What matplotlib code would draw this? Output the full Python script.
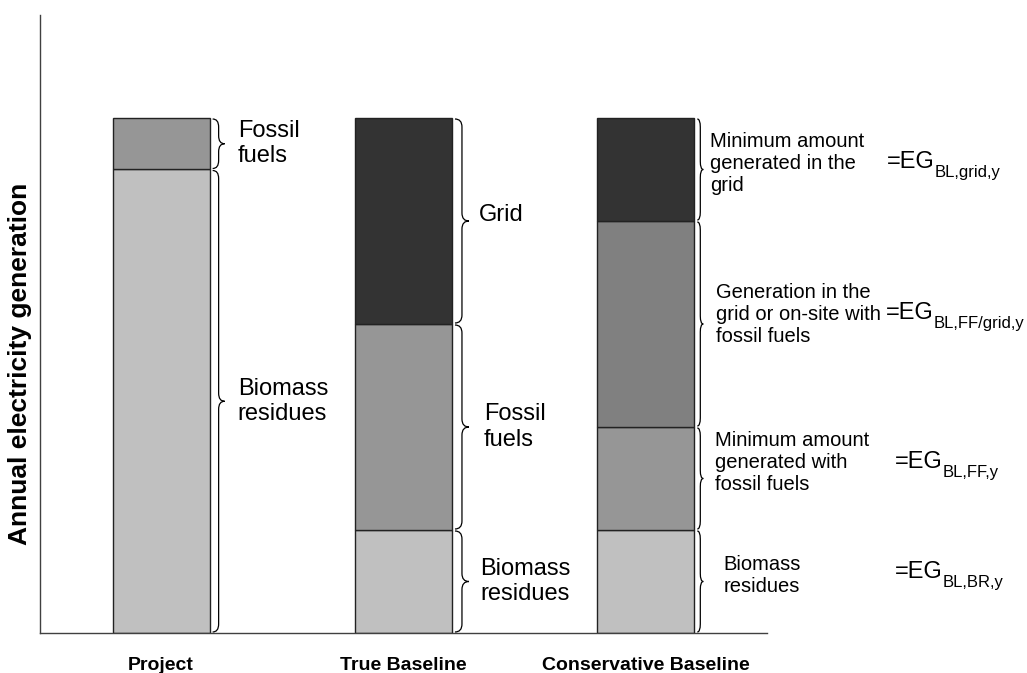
import matplotlib.pyplot as plt
import numpy as np
from matplotlib.path import Path
from matplotlib.patches import PathPatch

plt.rcParams['font.family'] = ['Liberation Sans', 'DejaVu Sans']

categories = ["Project", "True Baseline", "Conservative Baseline"]

# shares of annual generation, stacked bottom to top
project_values = [90, 10]
true_values = [20, 40, 40]
conservative_values = [20, 20, 40, 20]

project_labels = ["Biomass\nresidues", "Fossil\nfuels"]
true_labels = ["Biomass\nresidues", "Fossil\nfuels", "Grid"]
conservative_labels = [
    "Biomass\nresidues",
    "Minimum amount\ngenerated with\nfossil fuels",
    "Generation in the\ngrid or on-site with\nfossil fuels",
    "Minimum amount\ngenerated in the\ngrid",
]
eg_subscripts = ["BL,BR,y", "BL,FF,y", "BL,FF/grid,y", "BL,grid,y"]

project_colors = ["#c0c0c0", "#969696"]
true_colors = ["#c0c0c0", "#969696", "#333333"]
conservative_colors = ["#c0c0c0", "#969696", "#808080", "#333333"]

fig = plt.figure(figsize=(10.27, 6.73), dpi=100)
ax = fig.add_axes([40 / 1027, 40 / 673, 727 / 1027, 618 / 673])
ax.set_xlim(-0.5, 2.5)
ax.set_ylim(0, 120)
width = 0.4

# data units per pixel, used for the braces
px_x = 3.0 / 727
px_y = 120.0 / 618


def brace(x0, y0, y1, w_px, r_px=8):
    w = w_px * px_x
    r = min(r_px * px_y, (y1 - y0) / 4)
    xm = x0 + w / 2
    ym = (y0 + y1) / 2
    verts = [(x0, y1), (xm, y1), (xm, y1 - r),
             (xm, ym + r),
             (xm, ym), (x0 + w, ym),
             (xm, ym), (xm, ym - r),
             (xm, y0 + r),
             (xm, y0), (x0, y0)]
    codes = [Path.MOVETO, Path.CURVE3, Path.CURVE3,
             Path.LINETO,
             Path.CURVE3, Path.CURVE3,
             Path.CURVE3, Path.CURVE3,
             Path.LINETO,
             Path.CURVE3, Path.CURVE3]
    ax.add_patch(PathPatch(Path(verts, codes), fill=False, lw=0.9,
                           edgecolor='black', clip_on=False))


stacks = [
    (project_values, project_colors, project_labels, 12,
     [(28, 0), (28, 0)], 17),
    (true_values, true_colors, true_labels, 14,
     [(28, 0), (32, 0), (27, 6)], 17),
    (conservative_values, conservative_colors, conservative_labels, 6,
     [(29, 6), (21, 16), (22, 9), (16, 6)], 14.5),
]

eg_offsets = [(201, 4), (201, 11), (192, 5), (193, 1)]
eg_texts = []

for i, (vals, cols, labels, bw, offs, fs) in enumerate(stacks):
    bottoms = np.concatenate([[0], np.cumsum(vals)[:-1]])
    ax.bar([i] * len(vals), vals, width=width, bottom=bottoms, color=cols,
           edgecolor='#222222', linewidth=1.0, zorder=2)
    right = i + width / 2
    for v, b, lab, (dx, dy) in zip(vals, bottoms, labels, offs):
        brace(right + 3 * px_x, b + 1 * px_y, b + v - 1 * px_y, bw)
        ax.annotate(lab, xy=(right, b + v / 2), xytext=(dx, dy),
                    textcoords='offset pixels', ha='left', va='center',
                    fontsize=fs, annotation_clip=False)
    if i == 2:
        for v, b, (dx, dy) in zip(vals, bottoms, eg_offsets):
            t = ax.annotate("=EG", xy=(right, b + v / 2), xytext=(dx, dy),
                            textcoords='offset pixels', ha='left', va='baseline',
                            fontsize=17, annotation_clip=False)
            eg_texts.append((t, right, b + v / 2, dx, dy))

fig.canvas.draw()
renderer = fig.canvas.get_renderer()
for (t, right, yc, dx, dy), sub in zip(eg_texts, eg_subscripts):
    w = t.get_window_extent(renderer).width
    ax.annotate(sub, xy=(right, yc), xytext=(dx + w, dy - 9),
                textcoords='offset pixels', ha='left', va='baseline',
                fontsize=12, annotation_clip=False)

ax.set_xticks([0, 1, 2], categories, fontsize=14, fontweight='bold')
ax.tick_params(axis='x', length=0, pad=17)
ax.set_yticks([])
ax.set_ylabel("Annual electricity generation", fontsize=19, fontweight='bold')
ax.yaxis.set_label_coords(-0.011, 0.435)

for s in ['top', 'right']:
    ax.spines[s].set_visible(False)
for s in ['left', 'bottom']:
    ax.spines[s].set_color('#404040')
    ax.spines[s].set_linewidth(1.0)

fig.savefig('out.png', dpi=100)
